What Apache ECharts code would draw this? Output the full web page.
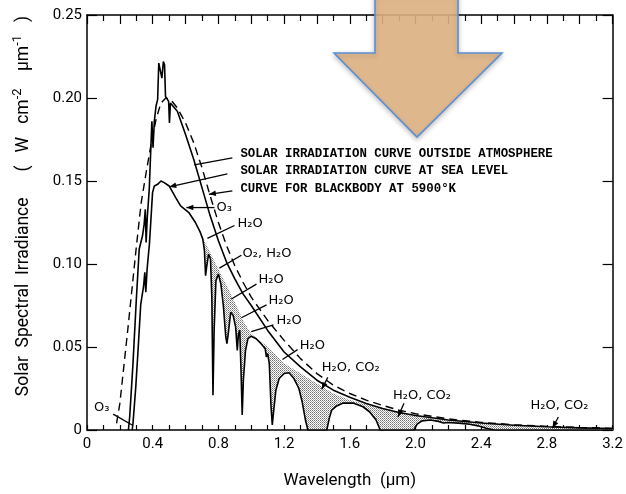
<!DOCTYPE html>
<html><head><meta charset="utf-8">
<script src="https://cdn.jsdelivr.net/npm/echarts@6/dist/echarts.min.js"></script>
<style>html,body{margin:0;padding:0;background:#fff}#c{width:626px;height:494px}</style>
</head><body><div id="c"></div>
<script>
// ---- data (wavelength in um, irradiance in W cm^-2 um^-1) ----
const wlBlackbody = [0.18,0.2,0.25,0.3,0.33,0.36,0.39,0.42,0.45,0.48,0.51,0.55,0.6,0.65,0.7,0.75,0.8,0.85,0.9,0.95,1.0,1.1,1.2,1.3,1.4,1.5,1.6,1.7,1.8,1.9,2.0,2.2,2.4,2.6,2.8,3.0,3.2];
const irrBlackbody = [0.004,0.016,0.062,0.11,0.137,0.155,0.172,0.187,0.197,0.2,0.199,0.194,0.185,0.173,0.158,0.141,0.125,0.111,0.099,0.089,0.080,0.066,0.054,0.043,0.034,0.027,0.022,0.018,0.0148,0.012,0.0098,0.0067,0.0046,0.0032,0.0022,0.0015,0.001];

const wlOutside = [0.252,0.26,0.28,0.30,0.318,0.338,0.348,0.355,0.36,0.367,0.379,0.388,0.395,0.402,0.41,0.42,0.43,0.437,0.447,0.456,0.465,0.472,0.478,0.49,0.497,0.502,0.508,0.52,0.55,0.6,0.65,0.7,0.75,0.8,0.85,0.9,0.95,1.0,1.1,1.2,1.3,1.4,1.5,1.6,1.7,1.8,1.9,2.0,2.2,2.4,2.6,2.8,3.0,3.2];
const irrOutside = [0,0.008,0.04,0.078,0.109,0.117,0.124,0.133,0.113,0.128,0.145,0.168,0.186,0.170,0.186,0.195,0.199,0.221,0.222,0.212,0.222,0.220,0.201,0.200,0.198,0.185,0.197,0.198,0.192,0.178,0.163,0.146,0.129,0.114,0.101,0.091,0.082,0.075,0.060,0.047,0.038,0.030,0.024,0.0197,0.016,0.013,0.0105,0.0087,0.006,0.0042,0.0029,0.002,0.0013,0.0009];

const wlSea = [0.275,0.28,0.297,0.312,0.327,0.345,0.352,0.358,0.366,0.38,0.39,0.399,0.41,0.43,0.45,0.47,0.50,0.54,0.57,0.62,0.66,0.69,0.705,0.715,0.722,0.728,0.74,0.752,0.76,0.767,0.774,0.785,0.80,0.815,0.83,0.845,0.852,0.86,0.875,0.89,0.905,0.915,0.922,0.93,0.938,0.945,0.952,0.965,0.98,1.0,1.03,1.06,1.085,1.092,1.10,1.11,1.12,1.128,1.137,1.15,1.17,1.2,1.23,1.26,1.29,1.31,1.33,1.345,1.46,1.475,1.49,1.52,1.56,1.62,1.68,1.72,1.76,1.785,1.99,2.01,2.04,2.09,2.14,2.17,2.2,2.28,2.33,2.38,2.43,2.48,3.2];
const irrSea = [0,0.004,0.026,0.05,0.0755,0.087,0.095,0.083,0.097,0.112,0.128,0.143,0.147,0.148,0.150,0.149,0.147,0.140,0.135,0.131,0.125,0.119,0.115,0.108,0.093,0.098,0.106,0.103,0.08,0.021,0.06,0.09,0.094,0.088,0.075,0.056,0.052,0.058,0.071,0.069,0.062,0.048,0.058,0.06,0.035,0.009,0.03,0.048,0.055,0.0565,0.055,0.052,0.049,0.044,0.046,0.04,0.015,0.003,0.012,0.024,0.031,0.034,0.0345,0.031,0.025,0.017,0.006,0,0,0.007,0.012,0.0145,0.0162,0.0162,0.014,0.011,0.006,0,0,0.0035,0.0055,0.006,0.0052,0.0042,0.0045,0.004,0.0035,0.0025,0.001,0,0];

// top of the absorption (shaded) bands
const wlEnvelope = [0.70,0.75,0.8,0.85,0.9,0.95,1.0,1.05,1.1,1.15,1.2,1.25,1.3,1.4,1.5,1.6,1.7,1.8,1.9,2.0,2.1,2.2,2.4,2.6,2.8,3.0,3.2];
const irrEnvelope = [0.117,0.107,0.097,0.087,0.077,0.066,0.058,0.054,0.050,0.045,0.040,0.037,0.034,0.028,0.022,0.018,0.0155,0.013,0.0105,0.0087,0.0068,0.0057,0.0042,0.0028,0.0019,0.0013,0.0009];

const xTickLabels = ['0','0.4','0.8','1.2','1.6','2.0','2.4','2.8','3.2'];
const yTickLabels = ['0','0.05','0.10','0.15','0.20','0.25'];

const noteTexts = ['SOLAR IRRADIATION CURVE OUTSIDE ATMOSPHERE','SOLAR IRRADIATION CURVE AT SEA LEVEL','CURVE FOR BLACKBODY AT 5900°K','O₃','H₂O','O₂, H₂O','H₂O','H₂O','H₂O','H₂O','H₂O, CO₂','H₂O, CO₂','H₂O, CO₂','O₃'];

// ---- annotation layout (data units) ----
const noteLayout = [
  {at:[0.934,0.1663], from:[0.885,0.1639], to:[0.653,0.1597], arrow:false, mono:true},
  {at:[0.934,0.1561], from:[0.855,0.1543], to:[0.501,0.1465], arrow:true, mono:true},
  {at:[0.934,0.1453], from:[0.885,0.1441], to:[0.742,0.1420], arrow:true, mono:true},
  {at:[0.788,0.1340], from:[0.776,0.1340], to:[0.605,0.1340], arrow:true},
  {at:[0.916,0.1244], from:[0.898,0.1232], to:[0.733,0.1154]},
  {at:[0.947,0.1065], from:[0.940,0.1053], to:[0.806,0.0975]},
  {at:[1.044,0.0903], from:[1.032,0.0879], to:[0.879,0.0789]},
  {at:[1.105,0.0778], from:[1.093,0.0754], to:[0.940,0.0676]},
  {at:[1.154,0.0658], from:[1.136,0.0634], to:[1.000,0.0592]},
  {at:[1.295,0.0508], from:[1.282,0.0484], to:[1.190,0.0425]},
  {at:[1.429,0.0377], from:[1.466,0.0317], to:[1.429,0.0245], arrow:true},
  {at:[1.863,0.0209], from:[1.930,0.0161], to:[1.893,0.0078], arrow:true},
  {at:[2.700,0.0144], from:[2.870,0.0078], to:[2.834,0.0012], arrow:true},
  {at:[0.043,0.0132], from:[0.159,0.0096], to:[0.275,0.0030]}
];

const zip = (xs, ys) => xs.map((x, i) => [x, ys[i]]);

// stipple pattern
const pc = document.createElement('canvas');
pc.width = 2; pc.height = 2;
const g = pc.getContext('2d');
g.fillStyle = '#ffffff'; g.fillRect(0,0,2,2);
g.fillStyle = '#707070'; g.fillRect(0,0,1,1);
g.fillStyle = '#a4a4a4'; g.fillRect(1,1,1,1);
const stipple = {type:'pattern', image: pc, repeat: 'repeat'};

const ink = '#000';
const labelFont = "Roboto, 'DejaVu Sans', sans-serif";
const frameLine = {show:true, onZero:false, lineStyle:{color:ink, width:1.5}};

const chart = echarts.init(document.getElementById('c'), null, {renderer:'canvas'});
const option = {
  animation: false,
  backgroundColor: '#fff',
  grid: {left: 87, right: 13, top: 15, bottom: 60},
  xAxis: [
    {type:'value', min:0, max:3.2, interval:0.4, position:'bottom',
     axisLine:frameLine,
     axisTick:{show:true, inside:true, length:5, lineStyle:{color:ink, width:1.2}},
     minorTick:{show:true, splitNumber:4, length:5, lineStyle:{color:ink, width:1.2}},
     splitLine:{show:false}, minorSplitLine:{show:false},
     axisLabel:{color:ink, fontFamily:labelFont, fontSize:15, margin:7,
       formatter: v => xTickLabels[Math.round(v/0.4)]},
     name:'Wavelength  (μm)', nameLocation:'middle', nameGap:42,
     nameTextStyle:{color:ink, fontFamily:labelFont, fontSize:17}},
    {type:'value', min:0, max:3.2, interval:0.2, position:'top',
     axisLine:frameLine,
     axisTick:{show:true, inside:true, length:9, lineStyle:{color:ink, width:1.2}},
     minorTick:{show:true, splitNumber:2, length:6, lineStyle:{color:ink, width:1.2}},
     splitLine:{show:false}, minorSplitLine:{show:false}, axisLabel:{show:false}}
  ],
  yAxis: [
    {type:'value', min:0, max:0.25, interval:0.05, position:'left',
     axisLine:frameLine,
     axisTick:{show:true, inside:true, length:10, lineStyle:{color:ink, width:1.2}},
     splitLine:{show:false},
     axisLabel:{color:ink, fontFamily:labelFont, fontSize:15, margin:5,
       formatter: v => yTickLabels[Math.round(v/0.05)]}},
    {type:'value', min:0, max:0.25, interval:0.05, position:'right',
     axisLine:frameLine,
     axisTick:{show:true, inside:true, length:10, lineStyle:{color:ink, width:1.2}},
     splitLine:{show:false}, axisLabel:{show:false}}
  ],
  series: [
    {type:'custom', name:'absorption', coordinateSystem:'cartesian2d', z:1, silent:true,
     data:[[wlEnvelope[0], irrEnvelope[0]]],
     renderItem: function(params, api){
       const pts = [];
       for (let i = 0; i < wlEnvelope.length; i++) pts.push(api.coord([wlEnvelope[i], irrEnvelope[i]]));
       for (let j = wlSea.length - 1; j >= 0; j--) if (wlSea[j] >= wlEnvelope[0]) pts.push(api.coord([wlSea[j], irrSea[j]]));
       return {type:'polygon', shape:{points:pts}, style:{fill: stipple, stroke: null}};
     }},
    {type:'line', name:'outside', data: zip(wlOutside, irrOutside), showSymbol:false, z:3,
     lineStyle:{color:ink, width:1.6}},
    {type:'line', name:'sea level', data: zip(wlSea, irrSea), showSymbol:false, z:3,
     lineStyle:{color:ink, width:1.6}},
    {type:'line', name:'blackbody', data: zip(wlBlackbody, irrBlackbody), showSymbol:false, z:3,
     lineStyle:{color:ink, width:1.4, type:[8,5]}}
  ]
};
chart.setOption(option);

const toPx = p => chart.convertToPixel({seriesIndex:1}, p);
const graphics = [];
noteLayout.forEach((n, i) => {
  const a = toPx(n.at), f = toPx(n.from), t = toPx(n.to);
  graphics.push({type:'line', z:50, silent:true, shape:{x1:f[0], y1:f[1], x2:t[0], y2:t[1]},
    style:{stroke:ink, lineWidth:1.3}});
  if (n.arrow) {
    const dx = t[0]-f[0], dy = t[1]-f[1], L = Math.hypot(dx, dy), ux = dx/L, uy = dy/L;
    const len = 7, hw = 2.8;
    const bx = t[0]-ux*len, by = t[1]-uy*len;
    graphics.push({type:'polygon', z:50, silent:true,
      shape:{points:[[t[0],t[1]],[bx-uy*hw, by+ux*hw],[bx+uy*hw, by-ux*hw]]},
      style:{fill:ink}});
  }
  graphics.push({type:'text', z:50, silent:true, x:a[0], y:a[1],
    style:{text: noteTexts[i], fill:ink, align:'left', verticalAlign:'middle',
      font: n.mono ? "bold 12.4px 'Liberation Mono', 'DejaVu Sans Mono', monospace" : "13px 'DejaVu Sans', sans-serif"}});
});
// y axis title
graphics.push({type:'text', z:50, silent:true, x:22, y:206, rotation:Math.PI/2,
  style:{text:'{t|Solar  Spectral  Irradiance      (   W   cm}{s|-2}{t|    μm}{s|-1}{t|   )}',
    align:'center', verticalAlign:'middle',
    rich:{t:{fill:ink, fontFamily:labelFont, fontSize:17.5, lineHeight:22, verticalAlign:'bottom'},
          s:{fill:ink, fontFamily:labelFont, fontSize:13, lineHeight:13, verticalAlign:'top'}}}});
// big decorative arrow
graphics.push({type:'polygon', z:100, silent:true,
  shape:{points:[[375,-6],[458,-6],[458,53],[502,53],[417,137],[334,53],[375,53]]},
  style:{fill:'rgba(227,181,133,0.88)', stroke:'#5b8fd4', lineWidth:1.6,
    shadowBlur:5, shadowColor:'rgba(0,0,0,0.25)', shadowOffsetY:2}});
chart.setOption({graphic: graphics});
</script></body></html>
